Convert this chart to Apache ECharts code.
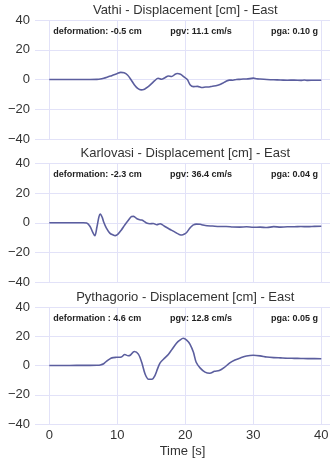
<!DOCTYPE html>
<html>
<head>
<meta charset="utf-8">
<script src="https://cdn.jsdelivr.net/npm/echarts@6/dist/echarts.min.js"></script>
<style>
  html, body { margin: 0; padding: 0; background: #fff; }
  #chart { width: 332px; height: 459px; }
</style>
</head>
<body>
<div id="chart"></div>
<script>
// Station displacement records, East component: [time s, displacement cm]
const vathiEast = [
  [0,0],[2,0],[4,0],[6,0],[7,0.1],[7.5,0.3],[8,0.8],[8.5,1.5],[9,2.3],[9.5,3.2],[10,4],[10.5,4.8],
  [11,4.5],[11.5,3],[12,0],[12.5,-3.5],[13,-6],[13.5,-7],[14,-6.5],[14.5,-5],[15,-3],[15.5,-0.8],
  [16,0.8],[16.5,0.2],[17,1.2],[17.5,2.4],[18,2],[18.5,3.5],[18.8,4],[19.3,3.5],[19.8,1.8],[20.3,0],
  [20.7,-3.5],[21.2,-4.8],[21.8,-4.6],[22.5,-5.4],[23,-5],[23.5,-5],[24,-4.5],[24.5,-4.2],[25,-3.6],
  [25.5,-2.5],[26,-1.2],[26.5,-0.4],[27,-0.5],[27.5,0],[28,0.1],[28.5,0.3],[29,0.3],[30,0.9],[30.5,0.5],
  [31,0.3],[32,0],[33,-0.2],[34,-0.3],[35,-0.5],[36,-0.4],[37,-0.6],[37.5,-0.3],[38,-0.6],[39,-0.5],[40,-0.5]
];
const karlovasiEast = [
  [0,0],[2,0],[4,0],[5,0],[5.5,-0.2],[6,-2.5],[6.4,-6.5],[6.7,-8.7],[7.0,-3],[7.3,4],[7.5,5.8],[7.8,3.5],
  [8.0,0.5],[8.4,-3.6],[8.9,-6.9],[9.4,-8.2],[9.7,-8.6],[10.1,-7.6],[10.6,-4.8],[11.1,-1.5],[11.6,1.5],
  [12.1,4.2],[12.4,4.3],[12.9,2.7],[13.3,2],[13.6,1.8],[14,0.8],[14.3,-0.2],[14.8,-0.6],[15.3,-0.5],
  [15.8,-1.3],[16.3,-0.6],[16.6,-1.2],[17,-2.5],[17.7,-4.3],[18.3,-5.8],[18.7,-6.9],[19.1,-7.8],[19.5,-8.2],
  [19.9,-7.5],[20.2,-6.5],[20.6,-4],[20.9,-2.5],[21.2,-1.4],[21.6,-0.9],[22.2,-1],[22.6,-1.5],[23.2,-2],
  [24,-2.2],[25,-2.5],[26,-2.5],[27,-2.8],[28,-2.9],[29,-2.7],[30,-3],[31,-2.9],[32,-3.2],[33,-2.6],
  [34,-2.9],[35,-2.7],[36,-2.7],[37,-2.5],[38,-2.6],[39,-2.4],[40,-2.3]
];
const pythagorioEast = [
  [0,0],[2,0],[4,0.1],[6,0.1],[7,0.2],[7.5,0.4],[8,1.2],[8.4,2.9],[8.8,4.2],[9.2,5.2],[9.9,5.6],[10.6,5.8],
  [11.1,7.5],[11.6,6.7],[11.9,7],[12.5,9.6],[13.1,7.8],[13.6,2],[14.1,-6],[14.6,-9.4],[15.1,-9.4],
  [15.5,-7.2],[15.9,-2.5],[16.3,1.8],[17,5.2],[17.5,7.5],[18,10.7],[18.7,15.2],[19.2,17.3],[19.7,18.6],
  [20.2,17.4],[20.7,14.5],[21.2,9],[21.6,2.2],[22.2,-1.8],[22.9,-4.5],[23.6,-5.3],[24.3,-4],[25,-3.5],
  [25.7,-1.5],[26.6,2],[27.3,3.8],[28.1,5.2],[29,6.5],[30,7],[31,6.6],[32,5.8],[33,5.4],[34,5.2],
  [35,5],[36,4.9],[37,4.8],[38,4.7],[39,4.7],[40,4.6]
];

const stations = ['Vathi', 'Karlovasi', 'Pythagorio'];
const records = [vathiEast, karlovasiEast, pythagorioEast];
const deformationText = ['deformation: -0.5 cm', 'deformation: -2.3 cm', 'deformation : 4.6 cm'];
const pgvText = ['pgv: 11.1 cm/s', 'pgv: 36.4 cm/s', 'pgv: 12.8 cm/s'];
const pgaText = ['pga: 0.10 g', 'pga: 0.04 g', 'pga: 0.05 g'];
const timeTicks = [0, 10, 20, 30, 40];

// panel layout
const gridTops = [20, 163.3, 307];
const gridHeight = 119;
const gridLeft = 35;
const gridWidth = 295;
const xMin = -2.1, xMax = 41.28;
const gridColor = '#e2e2f8';
const lineColor = '#5b5e9e';
const textColor = '#333';
const font = 'Liberation Sans, Arial, sans-serif';

const chart = echarts.init(document.getElementById('chart'), null, { renderer: 'canvas' });

const grids = [], xAxes = [], yAxes = [], series = [], titles = [];
const xPx = v => gridLeft + (v - xMin) / (xMax - xMin) * gridWidth;

stations.forEach((name, i) => {
  grids.push({ left: gridLeft, top: gridTops[i], width: gridWidth, height: gridHeight, containLabel: false });
  const last = i === stations.length - 1;
  xAxes.push({
    type: 'value', gridIndex: i, min: xMin, max: xMax,
    axisLine: { show: false },
    axisTick: { show: false, customValues: timeTicks },
    axisLabel: { show: last, customValues: timeTicks, color: textColor, fontSize: 13, fontFamily: font, margin: 5 },
    splitLine: { show: true, lineStyle: { color: gridColor, width: 1 } },
    name: last ? 'Time [s]' : '',
    nameLocation: 'middle', nameGap: 21,
    nameTextStyle: { color: textColor, fontSize: 13, fontFamily: font }
  });
  yAxes.push({
    type: 'value', gridIndex: i, min: -40, max: 40, interval: 20,
    axisLine: { show: false }, axisTick: { show: false },
    axisLabel: { color: textColor, fontSize: 13, fontFamily: font, margin: 5,
      formatter: v => (v < 0 ? '\u2212' + Math.abs(v) : String(v)) },
    splitLine: { show: true, lineStyle: { color: gridColor, width: 1 } }
  });
  series.push({
    type: 'line', xAxisIndex: i, yAxisIndex: i, data: records[i],
    showSymbol: false, smooth: 0.3,
    lineStyle: { color: lineColor, width: 1.6 }, silent: true
  });
  const center = (xPx(0) + xPx(40)) / 2;
  titles.push({
    text: name + ' - Displacement [cm] - East',
    left: center, top: gridTops[i] - 16, textAlign: 'center', padding: 0,
    textStyle: { color: textColor, fontSize: 13, fontWeight: 'normal', fontFamily: font }
  });
  const annStyle = { color: '#222', fontSize: 9, fontWeight: 'bold', fontFamily: font };
  titles.push({ text: deformationText[i], left: xPx(0) + 4, top: gridTops[i] + 7, padding: 0, textStyle: annStyle });
  titles.push({ text: pgvText[i], left: 201, top: gridTops[i] + 7, padding: 0, textAlign: 'center', textStyle: annStyle });
  titles.push({ text: pgaText[i], right: 14, top: gridTops[i] + 7, padding: 0, textStyle: annStyle });
});

chart.setOption({
  animation: false,
  backgroundColor: '#fff',
  title: titles,
  grid: grids,
  xAxis: xAxes,
  yAxis: yAxes,
  series: series
});
</script>
</body>
</html>
